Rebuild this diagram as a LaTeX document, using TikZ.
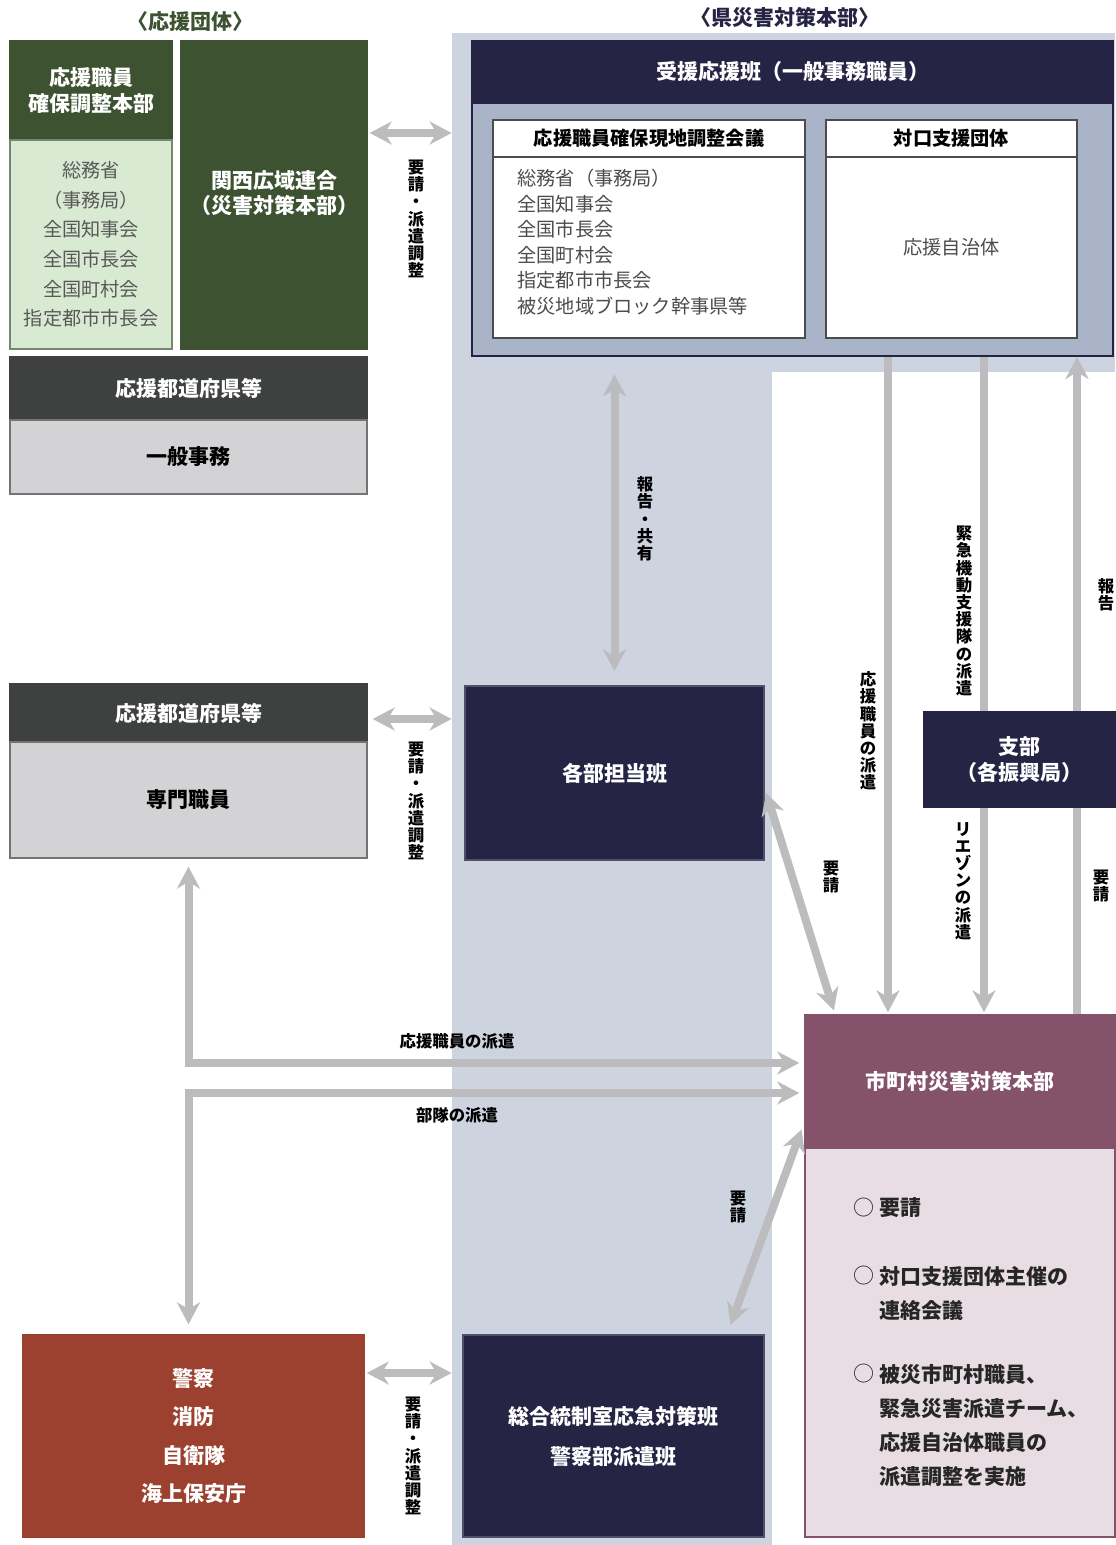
\documentclass[tikz,border=0pt]{standalone}
\usepackage{fontspec}
\setmainfont{Noto Sans CJK JP}
\usepackage{tikz}
\usetikzlibrary{arrows.meta}

\definecolor{grnDark}{HTML}{3D5230}
\definecolor{grnLight}{HTML}{D9EAD3}
\definecolor{grayDark}{HTML}{3E4140}
\definecolor{grayLight}{HTML}{D3D3D5}
\definecolor{navyBox}{HTML}{262445}
\definecolor{regionBg}{HTML}{CDD4E0}
\definecolor{juenBg}{HTML}{A9B4C8}
\definecolor{purpleHd}{HTML}{85526C}
\definecolor{pinkBg}{HTML}{E8DDE2}
\definecolor{redBox}{HTML}{9C412F}
\definecolor{arrowGray}{HTML}{BCBCBE}

\tikzset{
  box/.style={draw, line width=0.7pt, inner sep=0pt, align=center},
  headtxt/.style={text=white, font=\bfseries\fontsize{10.5}{13}\selectfont},
  vlabel/.style={inner sep=0pt, align=center, font=\bfseries\fontsize{8.2}{8.6}\selectfont},
  hlabel/.style={inner sep=0pt, font=\bfseries\fontsize{8.2}{10}\selectfont},
  itemtxt/.style={inner sep=0pt, align=left, text=black!85, font=\bfseries\fontsize{10.5}{17}\selectfont},
  flow/.style={draw=arrowGray, line width=4pt, >={Stealth[length=11pt,width=11.5pt,inset=3.5pt]}},
}

\begin{document}
\begin{tikzpicture}[x=0.5pt,y=0.5pt,yscale=-1,xscale=1]
\useasboundingbox (0,0) rectangle (1115,1545);

%Shape: Rectangle (background of the prefecture HQ)
\node[fill=regionBg, inner sep=0pt, minimum width=331.5pt, minimum height=169.5pt] (top) at (783.5,202.5) {};
\node[fill=regionBg, inner sep=0pt, minimum width=160pt, minimum height=756pt] (col) at (612,789) {};

% Text Node
\node[text=grnDark, font=\bfseries\fontsize{10.5}{13}\selectfont] (ttlA) at (190,22) {〈応援団体〉};
% Text Node
\node[text=navyBox, font=\bfseries\fontsize{10.5}{13}\selectfont] (ttlB) at (785,17) {〈県災害対策本部〉};

%Shape: Rectangle
\node[box, draw=grnDark, fill=grnDark, headtxt, minimum width=81pt, minimum height=49.5pt] (hqTop) at (91,90.5) {応援職員\\確保調整本部};
\node[box, draw=grnDark!70, fill=grnLight, text=black!65, font=\fontsize{9.6}{14.8}\selectfont, minimum width=81pt, minimum height=104.5pt] (hqList) at (91,244.5) {総務省\\（事務局）\\全国知事会\\全国市長会\\全国町村会\\指定都市市長会};
%Shape: Rectangle
\node[box, draw=grnDark, fill=grnDark, headtxt, font=\bfseries\fontsize{10.5}{12.5}\selectfont, minimum width=93pt, minimum height=154pt, text height=0pt] (kansai) at (274,195) {};
\node[text=white, align=center, inner sep=0pt, font=\bfseries\fontsize{10.5}{12.5}\selectfont] (kansaiTxt) at (274,193.5) {関西広域連合\\（災害対策本部）};

%Shape: Rectangle
\node[box, draw=grayDark, fill=grayDark, headtxt, minimum width=178.5pt, minimum height=31.5pt] (prefAHd) at (188.5,388.5) {応援都道府県等};
\node[box, draw=black!55, fill=grayLight, font=\bfseries\fontsize{10.5}{13}\selectfont, minimum width=178.5pt, minimum height=37pt] (prefABody) at (188.5,457) {一般事務};
%Shape: Rectangle
\node[box, draw=grayDark, fill=grayDark, headtxt, minimum width=178.5pt, minimum height=29pt] (prefBHd) at (188.5,713) {応援都道府県等};
\node[box, draw=black!55, fill=grayLight, font=\bfseries\fontsize{10.5}{13}\selectfont, minimum width=178.5pt, minimum height=58pt] (prefBBody) at (188.5,800) {専門職員};

%Shape: Rectangle
\node[box, draw=redBox, fill=redBox, headtxt, font=\bfseries\fontsize{10.5}{19.2}\selectfont, minimum width=170.5pt, minimum height=101pt] (police) at (193.5,1436) {警察\\消防\\自衛隊\\海上保安庁};

%Shape: Rectangle
\node[box, draw=navyBox, fill=navyBox, headtxt, minimum width=320.5pt, minimum height=31pt] (juenHd) at (792.5,72) {受援応援班（一般事務職員）};
\node[box, draw=navyBox, line width=1pt, fill=juenBg, minimum width=320.5pt, minimum height=126.5pt] (juenBody) at (792.5,229.5) {};
%Shape: Rectangle
\node[box, draw=black!70, fill=white, font=\bfseries\fontsize{9.6}{12}\selectfont, minimum width=156pt, minimum height=18.5pt] (kaigiHd) at (649,138.5) {応援職員確保現地調整会議};
\node[box, draw=black!70, fill=white, minimum width=156pt, minimum height=90.5pt] (kaigiBody) at (649,247.5) {};
% Text Node
\node[anchor=west, align=left, inner sep=0pt, text=black!70, font=\fontsize{9.6}{12.8}\selectfont] (kaigiList) at (517,242) {総務省（事務局）\\全国知事会\\全国市長会\\全国町村会\\指定都市市長会\\被災地域ブロック幹事県等};
%Shape: Rectangle
\node[box, draw=black!70, fill=white, font=\bfseries\fontsize{9.6}{12}\selectfont, minimum width=125.5pt, minimum height=18.5pt] (taikoHd) at (951.5,138.5) {対口支援団体};
\node[box, draw=black!70, fill=white, text=black!70, font=\fontsize{9.6}{12}\selectfont, minimum width=125.5pt, minimum height=90.5pt] (taikoBody) at (951.5,247.5) {応援自治体};

%Shape: Rectangle
\node[box, draw=navyBox!80!white, fill=navyBox, headtxt, minimum width=149.5pt, minimum height=87pt] (kakubu) at (614.5,773) {各部担当班};
\node[box, draw=navyBox!80!white, fill=navyBox, headtxt, font=\bfseries\fontsize{10.5}{20}\selectfont, minimum width=150.5pt, minimum height=101pt] (sogo) at (613.5,1436) {総合統制室応急対策班\\警察部派遣班};
\node[box, draw=navyBox, fill=navyBox, headtxt, minimum width=95.5pt, minimum height=47.5pt] (shibu) at (1019.5,759.5) {支部\\（各振興局）};

%Shape: Rectangle
\node[box, draw=purpleHd, fill=purpleHd, headtxt, minimum width=155pt, minimum height=66.5pt] (shichoHd) at (960,1081.5) {市町村災害対策本部};
\node[box, draw=purpleHd, fill=pinkBg, minimum width=155pt, minimum height=194.5pt] (shichoBody) at (960,1342.5) {};
% Text Node
\node[itemtxt, font=\fontsize{10.5}{17}\selectfont] (bulA) at (864,1208) {○};
\node[itemtxt, anchor=west] (itemA) at (879,1208) {要請};
\node[itemtxt, font=\fontsize{10.5}{17}\selectfont] (bulB) at (864,1276) {○};
\node[itemtxt, anchor=west] (itemB) at (879,1293) {対口支援団体主催の\\連絡会議};
\node[itemtxt, font=\fontsize{10.5}{17}\selectfont] (bulC) at (864,1374) {○};
\node[itemtxt, anchor=west] (itemC) at (879,1425.5) {被災市町村職員、\\緊急災害派遣チーム、\\応援自治体職員の\\派遣調整を実施};

%Straight Lines
\draw[flow,<->, shorten <=1pt] (kansai.east |- 0,133) -- (col.west |- 0,133);
\draw[flow,<->, shorten <=2.5pt] (prefBHd.east |- 0,719) -- (col.west |- 0,719);
\draw[flow,<->, shorten <=1pt] (police.east |- 0,1373) -- (col.west |- 0,1373);
\draw[flow,<->, shorten <=1pt, shorten >=7pt] (top.south -| kakubu.north) -- (kakubu.north);
%Straight Lines
\draw[flow,->, shorten >=1pt] (juenBody.south -| 888,0) -- (shichoHd.north -| 888,0);
\draw[flow] (juenBody.south -| 984,0) -- (shibu.north -| 984,0);
\draw[flow,->, shorten >=1pt] (shibu.south -| 984,0) -- (shichoHd.north -| 984,0);
\draw[flow] (shichoHd.north -| 1077,0) -- (shibu.south -| 1077,0);
\draw[flow,->] (shibu.north -| 1077,0) -- (juenBody.south -| 1077,0);
%Straight Lines
\draw[flow,<->, shorten <=2.5pt, shorten >=2pt] (kakubu.east |- 0,788) -- (shichoHd.north -| 835,0);
\draw[flow,<->, shorten <=5pt, shorten >=4pt] (sogo.north -| 727,0) -- (shichoHd.west |- 0,1122);
\draw[flow,<->, shorten <=4pt, shorten >=2.5pt] (prefBBody.south) |- (shichoHd.west |- 0,1063);
\draw[flow,<->, shorten <=2.5pt, shorten >=5pt] (shichoHd.west |- 0,1093) -| (police.north -| prefBBody.south);

% Text Node
\node[vlabel] (lblReqA) at (416,219) {要\\請\\・\\派\\遣\\調\\整};
\node[vlabel] (lblReqB) at (416,801) {要\\請\\・\\派\\遣\\調\\整};
\node[vlabel] (lblReqC) at (413,1456) {要\\請\\・\\派\\遣\\調\\整};
\node[vlabel] (lblShare) at (645,519) {報\\告\\・\\共\\有};
\node[vlabel] (lblStaff) at (868,731) {応\\援\\職\\員\\の\\派\\遣};
\node[vlabel] (lblTeam) at (964,611) {緊\\急\\機\\動\\支\\援\\隊\\の\\派\\遣};
\node[vlabel] (lblLiaison) at (963,881) {リ\\エ\\ゾ\\ン\\の\\派\\遣};
\node[vlabel] (lblReport) at (1106,595) {報\\告};
\node[vlabel] (lblReqD) at (1101,886) {要\\請};
\node[vlabel] (lblReqE) at (831,877) {要\\請};
\node[vlabel] (lblReqF) at (738,1207) {要\\請};
\node[hlabel] (lblStaffH) at (457,1041) {応援職員の派遣};
\node[hlabel] (lblUnit) at (457,1115) {部隊の派遣};

\end{tikzpicture}
\end{document}
